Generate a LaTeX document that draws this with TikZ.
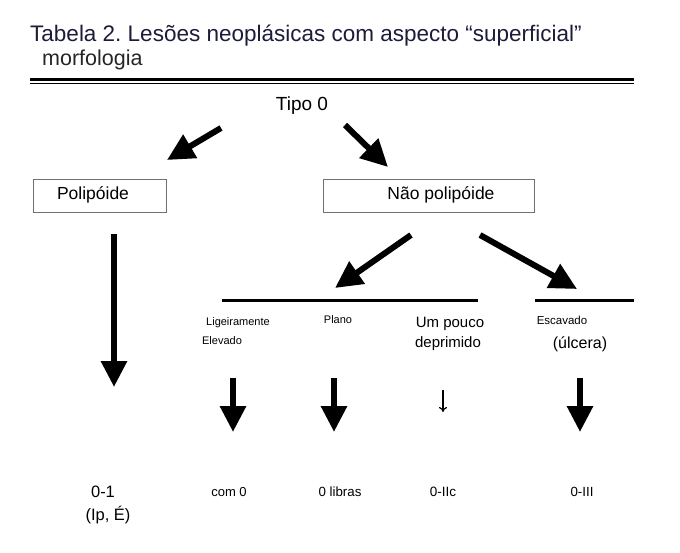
\documentclass[tikz,border=0pt]{standalone}
\usepackage{fontspec}
\setmainfont{Liberation Sans}
\usetikzlibrary{arrows.meta}
\frenchspacing
\definecolor{titlecol}{HTML}{1C1C3A}
\definecolor{subcol}{HTML}{262626}
\definecolor{boxcol}{HTML}{707070}
\begin{document}
\begin{tikzpicture}[x=1pt,y=-1pt,
  txt/.style={inner sep=0pt, anchor=base},
  fs/.style={font=\fontsize{#1}{#1}\selectfont},
  fatarrow/.style={line width=6pt, -{Triangle[length=26pt,width=25pt]}},
  diagarrow/.style={line width=6pt, -{Triangle[length=27pt,width=26pt]}},
  thinarrow/.style={line width=1.2pt, -{To[length=5pt,width=8pt]}},
  boxstyle/.style={draw=boxcol, line width=0.9pt, inner sep=0pt},
  rulestyle/.style={line width=3pt}]
\useasboundingbox (0,0) rectangle (680,552);
\fill[white] (0,0) rectangle (680,552);

% title
\node[txt, anchor=base west, fs=22.5, text=titlecol] (title) at (30,41) {Tabela 2. Lesões neoplásicas com aspecto “superficial”};
\node[txt, anchor=base west, fs=21.5, text=subcol] (morf) at (42,65) {morfologia};
\coordinate (r1a) at (30,79.5); \coordinate (r1b) at (634,79.5);
\coordinate (r2a) at (30,83.6); \coordinate (r2b) at (634,83.6);
\draw[line width=2.3pt] (r1a) -- (r1b);
\draw[line width=1.6pt] (r2a) -- (r2b);

% top
\node[txt, fs=19] (tipo) at (302,110) {Tipo 0};
\coordinate (a1s) at (221,128); \coordinate (a1e) at (167,160);
\coordinate (a2s) at (345,125); \coordinate (a2e) at (388,167);
\draw[diagarrow] (a1s) -- (a1e);
\draw[diagarrow] (a2s) -- (a2e);

% boxes
\node[boxstyle, minimum width=133pt, minimum height=33pt] (poli) at (99.5,195.5) {};
\node[txt, fs=17.5] (polit) at (93,199) {Polipóide};
\node[boxstyle, minimum width=211pt, minimum height=33pt] (nao) at (428.5,195.5) {};
\node[txt, fs=17.5] (naot) at (441,199) {Não polipóide};

% polipoide arrow
\coordinate (a3s) at (114,234); \coordinate (a3e) at (114,387);
\draw[fatarrow] (a3s) -- (a3e);

% nao polipoide arrows
\coordinate (a4s) at (411,235); \coordinate (a4e) at (335,288);
\coordinate (a5s) at (480,235); \coordinate (a5e) at (577,289);
\draw[diagarrow] (a4s) -- (a4e);
\draw[diagarrow] (a5s) -- (a5e);

% horizontal rules
\coordinate (h1a) at (222,300); \coordinate (h1b) at (478,300);
\coordinate (h2a) at (535,300); \coordinate (h2b) at (634,300);
\draw[rulestyle] (h1a) -- (h1b);
\draw[rulestyle] (h2a) -- (h2b);

% category labels
\node[txt, fs=11] (lig) at (238,325.5) {Ligeiramente};
\node[txt, fs=11] (elev) at (222,344.5) {Elevado};
\node[txt, fs=11] (plano) at (338,323.5) {Plano};
\node[txt, fs=15] (um) at (450,327) {Um pouco};
\node[txt, fs=15] (dep) at (448,347) {deprimido};
\node[txt, fs=11.5] (esc) at (562,324) {Escavado};
\node[txt, fs=16] (ulc) at (580,348.5) {(úlcera)};

% down arrows
\coordinate (d1s) at (233,378); \coordinate (d1e) at (233,432);
\coordinate (d2s) at (334,378); \coordinate (d2e) at (334,432);
\coordinate (d3s) at (443,390); \coordinate (d3e) at (443,412);
\coordinate (d4s) at (580,378); \coordinate (d4e) at (580,432);
\draw[fatarrow] (d1s) -- (d1e);
\draw[fatarrow] (d2s) -- (d2e);
\draw[thinarrow] (d3s) -- (d3e);
\draw[fatarrow] (d4s) -- (d4e);

% bottom labels
\node[txt, fs=16.5] (b1) at (103,497.5) {0-1};
\node[txt, fs=16.5] (b1b) at (108,520.5) {(Ip, É)};
\node[txt, fs=13] (b2) at (229,496.5) {com 0};
\node[txt, fs=13.3] (b3) at (340,496.5) {0 libras};
\node[txt, fs=13.5] (b4) at (443,496.5) {0-IIc};
\node[txt, fs=13.3] (b5) at (582,496.5) {0-III};
\end{tikzpicture}
\end{document}
